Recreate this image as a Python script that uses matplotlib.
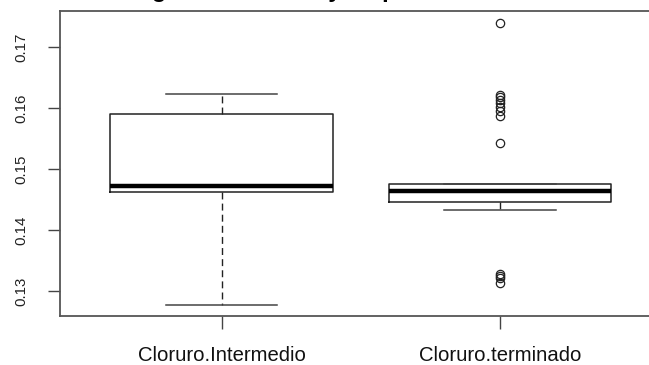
import matplotlib
matplotlib.use("Agg")
import matplotlib.pyplot as plt

plt.rcParams['font.family'] = ['Liberation Sans', 'DejaVu Sans']

categories = ["Cloruro.Intermedio", "Cloruro.terminado"]
q1 = [0.14618, 0.14464]
med = [0.14726, 0.14634]
q3 = [0.15902, 0.14754]
whis_lo = [0.12775, 0.14328]
whis_hi = [0.16230, 0.14754]
outliers = [
    [],
    [0.17389, 0.16221, 0.16180, 0.16139, 0.16082, 0.16016, 0.15951, 0.15861,
     0.15421, 0.13280, 0.13250, 0.13220, 0.13126],
]
y_ticks = [0.13, 0.14, 0.15, 0.16, 0.17]
title = "Diagrama de cloro y en producto terminado"

W, H = 649, 365
fig = plt.figure(figsize=(W / 100, H / 100), dpi=100)
ax = fig.add_axes([60.3 / W, 49 / H, 601 / W, 305 / H])

stats = []
for i, name in enumerate(categories):
    stats.append(dict(label=name, q1=q1[i], med=med[i], q3=q3[i],
                      whislo=whis_lo[i], whishi=whis_hi[i], fliers=outliers[i]))

line_c = "#222222"
ax.bxp(stats, positions=[1, 2], widths=0.8, showcaps=True,
       boxprops=dict(color=line_c, linewidth=1.1),
       medianprops=dict(color="black", linewidth=3.2, solid_capstyle="butt"),
       whiskerprops=dict(color=line_c, linewidth=1.0, linestyle=(0, (5, 3))),
       capprops=dict(color="#444444", linewidth=1.1),
       capwidths=0.4,
       flierprops=dict(marker="o", markerfacecolor="none", markeredgecolor="#222222",
                       markersize=6.0, markeredgewidth=0.9, linestyle="none"))

ax.set_xlim(0.42, 2.58)
ax.set_ylim(0.12590, 0.17590)
ax.set_xticks([1, 2])
ax.set_xticklabels(categories, fontsize=14.6, color="#111111")
ax.set_yticks(y_ticks)
ax.set_yticklabels([f"{v:.2f}" for v in y_ticks], rotation=90, va="center",
                   fontsize=10.8, color="#222222")
ax.tick_params(axis="y", length=8.6, width=1.0, color="#444444", pad=14.5)
ax.tick_params(axis="x", length=9.4, width=1.0, color="#444444", pad=12)
for s in ax.spines.values():
    s.set_color("#555555")
    s.set_linewidth(1.3)

fig.text(360.5 / W, 1 + 3.5 / H, title, ha="center", va="baseline",
         fontsize=17, fontweight="bold", color="black")

fig.savefig("out.png", dpi=100)
